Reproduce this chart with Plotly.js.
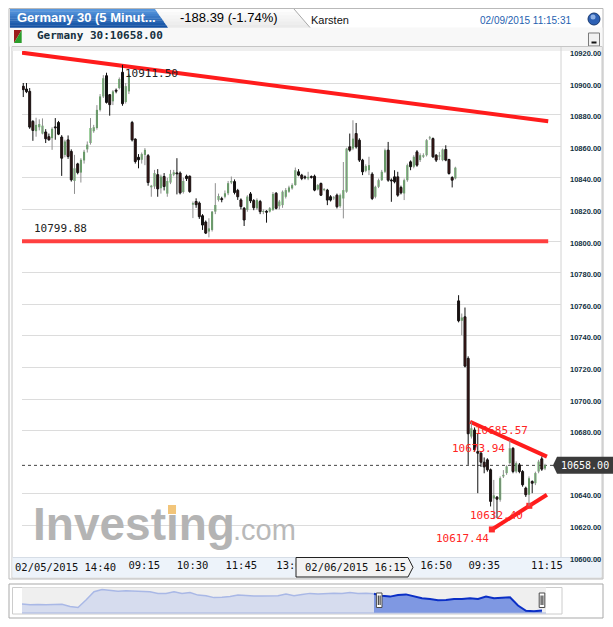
<!DOCTYPE html>
<html><head><meta charset="utf-8">
<script src="https://cdn.plot.ly/plotly-3.0.1.min.js"></script>
<style>html,body{margin:0;padding:0;background:#fff;}#chart{width:613px;height:627px;}</style>
</head><body><div id="chart"></div>
<script>
// ---- 5-minute candles: 02/05 14:40-17:25, 02/06 09:00-17:25, 02/09 09:00-11:15 ----
const openP = [10897.9,10896.2,10894.7,10875.7,10869.5,10872.0,10868.0,10869.0,10866.0,10865.1,10872.0,10875.0,10865.8,10854.5,10864.0,10856.7,10838.0,10848.8,10843.3,10851.0,10858.0,10862.0,10869.5,10871.5,10883.0,10891.5,10904.6,10892.6,10888.4,10895.2,10896.8,10906.8,10888.0,10894.7,
10875.0,10864.5,10853.0,10851.4,10854.5,10854.0,10834.0,10834.5,10842.0,10833.4,10840.8,10830.0,10837.0,10842.0,10843.0,10843.0,10831.0,10841.0,10841.0,10823.0,10825.0,10824.0,10816.0,10812.0,10806.0,10807.0,10818.6,10826.0,10826.6,10828.0,10830.2,10837.0,10837.6,10832.0,10826.0,10820.7,10819.7,10829.8,10825.6,10820.7,10825.0,10818.4,10818.6,10818.6,10819.7,10830.2,10822.0,10822.7,10828.0,10831.2,10833.3,10835.4,10843.8,10841.7,10840.4,10839.6,10840.6,10841.0,10832.6,10836.4,10832.2,10832.2,10828.0,10827.0,10829.0,10822.0,10826.9,10831.2,10859.6,10858.5,10868.0,10863.8,10851.2,10844.4,10844.8,10842.3,10828.0,10834.3,10838.5,10843.8,10857.5,10838.5,10840.6,10840.6,10833.9,10830.1,10838.5,10850.1,10847.0,10856.4,10851.2,10853.3,10854.3,10865.0,10864.8,10854.3,10853.5,10851.2,10857.9,10851.6,10840.2,10839.6,
10762.1,10749.5,10752.0,10725.7,10676.2,10680.4,10666.7,10665.7,10660.0,10661.5,10655.2,10637.0,10637.9,10636.2,10651.0,10653.1,10659.4,10668.8,10654.1,10658.3,10654.1,10643.6,10639.4,10647.8,10646.7,10654.1,10662.1,10656.0];
const highP = [10900.0,10900.0,10896.8,10876.5,10878.0,10877.0,10877.6,10870.8,10868.0,10872.0,10877.8,10876.0,10867.0,10864.1,10866.8,10858.0,10854.5,10849.5,10852.4,10857.7,10863.0,10877.8,10873.5,10886.0,10893.0,10905.0,10906.5,10893.0,10895.5,10896.5,10903.5,10911.5,10900.0,10906.0,
10876.0,10865.0,10855.0,10856.0,10858.8,10855.0,10835.5,10845.0,10845.5,10842.0,10843.0,10840.0,10845.0,10845.0,10852.4,10844.0,10840.0,10842.0,10841.5,10825.0,10827.0,10825.0,10817.0,10813.0,10814.4,10819.0,10836.6,10830.0,10828.0,10832.0,10838.0,10840.8,10839.0,10833.0,10827.0,10821.5,10829.0,10831.0,10826.5,10827.0,10826.0,10820.0,10819.5,10821.5,10831.0,10831.0,10826.0,10832.0,10833.5,10835.0,10836.5,10846.5,10845.5,10842.5,10841.5,10843.8,10841.5,10842.0,10836.0,10837.0,10833.5,10833.0,10829.0,10828.5,10830.0,10830.0,10850.0,10859.0,10868.0,10876.4,10874.7,10865.0,10852.0,10848.5,10853.3,10843.5,10835.0,10839.5,10845.0,10858.5,10862.7,10839.6,10844.8,10843.8,10835.0,10839.5,10849.0,10851.0,10854.3,10857.5,10855.5,10855.5,10864.5,10866.5,10865.5,10855.0,10856.4,10858.5,10860.6,10852.0,10841.0,10847.0,
10765.7,10754.1,10757.9,10727.0,10685.57,10682.0,10678.3,10667.0,10663.0,10662.5,10656.0,10648.8,10638.5,10651.0,10655.0,10658.0,10673.94,10669.5,10660.5,10659.5,10655.0,10644.5,10651.0,10648.5,10654.0,10661.5,10663.6,10659.0];
const lowP = [10891.1,10893.6,10871.0,10863.4,10866.0,10870.0,10867.5,10862.0,10863.4,10857.7,10864.1,10867.0,10841.2,10853.0,10852.0,10837.6,10829.8,10842.2,10837.0,10849.0,10856.0,10861.0,10868.5,10870.5,10882.0,10890.5,10887.0,10879.3,10886.0,10893.5,10896.0,10885.6,10887.0,10893.0,
10863.0,10849.0,10846.0,10849.0,10848.0,10835.0,10828.0,10833.0,10828.0,10830.0,10832.0,10828.0,10836.0,10841.0,10829.5,10829.5,10830.0,10838.0,10830.5,10814.5,10821.0,10814.0,10807.0,10804.4,10802.3,10806.0,10817.0,10825.0,10824.5,10827.0,10829.0,10836.0,10829.5,10826.0,10820.0,10809.5,10818.5,10824.0,10819.5,10819.7,10817.0,10817.0,10811.6,10818.0,10819.0,10820.0,10820.0,10821.0,10826.9,10830.5,10832.5,10835.0,10841.0,10838.5,10839.0,10838.5,10839.5,10831.5,10832.0,10828.5,10831.5,10822.7,10825.0,10826.0,10820.6,10821.0,10814.3,10830.5,10856.5,10857.5,10858.5,10850.0,10841.7,10843.5,10841.7,10825.9,10827.0,10833.5,10838.0,10843.0,10837.5,10824.8,10836.5,10828.0,10829.5,10825.9,10837.5,10844.8,10846.0,10847.0,10850.0,10852.5,10853.5,10864.0,10852.5,10850.0,10851.2,10850.5,10850.5,10842.0,10833.9,10839.0,
10748.5,10740.4,10720.0,10658.3,10675.0,10666.5,10640.4,10657.0,10653.0,10654.0,10632.0,10624.0,10624.6,10635.0,10650.0,10652.0,10658.5,10653.0,10653.0,10653.0,10644.5,10638.0,10632.4,10640.4,10645.5,10653.0,10654.5,10655.0];
const closeP = [10895.8,10894.5,10872.1,10870.0,10873.5,10874.0,10873.0,10864.7,10864.1,10871.0,10871.6,10867.6,10852.4,10863.0,10853.5,10838.7,10846.0,10843.3,10851.4,10856.5,10861.0,10871.5,10872.0,10883.0,10891.5,10903.0,10887.7,10886.3,10894.7,10894.8,10902.5,10886.9,10898.0,10905.3,
10864.0,10850.3,10851.4,10855.0,10857.7,10837.0,10835.0,10843.0,10833.0,10840.8,10834.5,10838.0,10842.5,10843.5,10842.5,10830.5,10838.0,10839.5,10831.3,10824.0,10823.0,10815.4,10810.1,10805.0,10808.0,10818.6,10822.8,10828.5,10826.2,10830.2,10836.6,10838.0,10830.7,10828.0,10821.8,10813.3,10828.1,10825.4,10821.1,10826.0,10818.6,10818.8,10818.2,10820.7,10829.8,10820.7,10825.0,10831.2,10832.2,10833.9,10835.4,10844.8,10841.7,10839.6,10840.0,10840.6,10840.2,10832.2,10835.4,10829.0,10832.6,10825.9,10825.9,10827.5,10821.7,10829.0,10832.2,10858.5,10857.5,10864.8,10859.6,10851.2,10843.8,10847.4,10848.0,10826.9,10834.3,10838.5,10843.8,10857.5,10838.5,10838.0,10837.5,10829.0,10830.5,10838.5,10848.0,10847.0,10853.3,10848.0,10854.3,10854.3,10863.8,10865.5,10853.3,10851.2,10854.0,10857.9,10851.2,10842.7,10838.5,10846.39,
10749.5,10751.6,10720.8,10678.0,10681.5,10667.8,10665.7,10660.0,10657.0,10655.2,10635.2,10639.0,10636.6,10649.9,10652.0,10657.3,10668.8,10654.1,10659.4,10654.1,10645.7,10639.4,10649.9,10646.7,10653.1,10660.4,10655.6,10658.0];

const prevClose = 10846.39;
// x-axis labels (bar positions) and y ticks
const xTickBar  = [37.8, 52.9, 68.1, 84.0, 129.0, 144.0, 163.6];
const xTickText = ['09:15','10:30','11:45','13:00','16:50','09:35','11:15'];
const firstTickText = '02/05/2015 14:40';
const cursorText = '02/06/2015 16:15';
const yTickVals = [10600,10620,10640,10680,10700,10720,10740,10760,10780,10800,10820,10840,10860,10880,10900,10920];

// drawn trend lines [bar0, price0, bar1, price1]
const lineBar0   = [-0.4, -0.4, 139.6, 146.4];
const linePrice0 = [10919.2, 10799.88, 10685.57, 10617.44];
const lineBar1   = [164.0, 164.0, 163.6, 163.6];
const linePrice1 = [10875.8, 10799.88, 10663.5, 10639.4];
const anchorBar   = [146.4, 158.1];
const anchorPrice = [10617.44, 10632.40];
// price labels
const labelBar   = [31, 0, 139.6, 152, 158.1, 146.4];
const labelPrice = [10911.50, 10799.88, 10685.57, 10673.94, 10632.40, 10617.44];

// navigator (longer history)
const navValues = [10771,10756,10762,10756,10762,10766,10731,10715,10833,10963,10999,10983,10972,10978,10972,10972,10963,10937,10937,10963,10937,10952,10910,10901,10870,10875,10886,10910,10901,10895,10895,10901,10901,10926,10901,10921,10937,10926,10937,10941,10937,10952,10937,10941,10932,10901,10886,10910,10921,10886,10859,10849,10828,10833,10849,10849,10859,10849,10886,10859,10870,10875,10746,10663,10653,10668];
const navSplit = 44;

// ---- geometry helpers ----
const W = 613, H = 627;
const M = {l: 22, r: 52, t: 51, b: 14};
const PW = W - M.l - M.r, PH = H - M.t - M.b;
const px = x => (x - M.l) / PW;
const py = y => (H - M.b - y) / PH;
const yRange = [10600, 10920.25];
const xRange = [-0.4, 168];
const mainBottom = 557;
const yPix = v => M.t + (yRange[1] - v) / (yRange[1] - yRange[0]) * (mainBottom - M.t);

const N = openP.length;
const idx = openP.map((_, i) => i);
const isUp = idx.map(i => closeP[i] >= openP[i]);
const lastClose = closeP[N - 1];

function wick(up, color) {
  const xs = [], ys = [];
  idx.forEach(i => { if (isUp[i] === up) { xs.push(i, i, null); ys.push(lowP[i], highP[i], null); } });
  return {type: 'scatter', mode: 'lines', x: xs, y: ys, line: {color, width: 1}, hoverinfo: 'skip', connectgaps: false};
}

const traces = [];
lineBar0.forEach((b, k) => traces.push({type: 'scatter', mode: 'lines', x: [b, lineBar1[k]], y: [linePrice0[k], linePrice1[k]],
  line: {color: k === 1 ? '#ff4040' : '#ff1c1c', width: 4}, hoverinfo: 'skip'}));
traces.push({type: 'scatter', mode: 'markers', x: anchorBar, y: anchorPrice, marker: {symbol: 'square', size: 6, color: '#ff2a2a'}, hoverinfo: 'skip'});
traces.push(wick(true, '#8f8f8f'));
traces.push(wick(false, '#111111'));
traces.push({type: 'bar', x: idx, base: idx.map(i => Math.min(openP[i], closeP[i])),
  y: idx.map(i => Math.max(Math.abs(closeP[i] - openP[i]), 0.6)), width: 0.62,
  marker: {color: isUp.map(u => u ? '#3b9f3b' : '#8c1a1a'),
           line: {color: isUp.map(u => u ? '#3b9f3b' : '#141414'), width: isUp.map(u => u ? 0 : 1)}},
  hoverinfo: 'skip'});
const navIdx = navValues.map((_, k) => k);
traces.push({type: 'scatter', mode: 'lines', xaxis: 'x2', yaxis: 'y2', x: navIdx.slice(0, navSplit + 1), y: navValues.slice(0, navSplit + 1),
  fill: 'tozeroy', fillcolor: '#d6dcee', line: {color: '#a9b8e6', width: 1.5}, hoverinfo: 'skip'});
traces.push({type: 'scatter', mode: 'lines', xaxis: 'x2', yaxis: 'y2', x: navIdx.slice(navSplit), y: navValues.slice(navSplit),
  fill: 'tozeroy', fillcolor: '#7f98e2', line: {color: '#0b2fc6', width: 2}, hoverinfo: 'skip'});

// ---- shapes ----
const shapes = [];
const rectP = (x0, y0, x1, y1, fill, line, extra) => Object.assign({type: 'rect', xref: 'paper', yref: 'paper',
  x0: px(x0), x1: px(x1), y0: py(y1), y1: py(y0), fillcolor: fill, line: {color: line || 'rgba(0,0,0,0)', width: line ? 1 : 0}, layer: 'below'}, extra || {});
const pathP = (pts, fill, line, layer, lw) => ({type: 'path', xref: 'paper', yref: 'paper',
  path: 'M ' + pts.map(p => px(p[0]).toFixed(5) + ',' + py(p[1]).toFixed(5)).join(' L ') + ' Z',
  fillcolor: fill, line: {color: line || 'rgba(0,0,0,0)', width: line ? (lw || 1) : 0}, layer: layer || 'below'});
const segP = (x0, y0, x1, y1, color, w, layer) => ({type: 'line', xref: 'paper', yref: 'paper', x0: px(x0), x1: px(x1), y0: py(y0), y1: py(y1),
  line: {color, width: w || 1}, layer: layer || 'below'});
function lerpColor(a, b, t) {
  const pa = [1,3,5].map(i => parseInt(a.substr(i, 2), 16)), pb = [1,3,5].map(i => parseInt(b.substr(i, 2), 16));
  return 'rgb(' + pa.map((v, i) => Math.round(v + (pb[i] - v) * t)).join(',') + ')';
}
function slantBands(lT, lB, rT, rB, yT, yB, c0, c1, n) {
  for (let k = 0; k < n; k++) {
    const t0 = k / n, t1 = (k + 1) / n;
    const ya = yT + (yB - yT) * t0, yb = yT + (yB - yT) * t1 + 0.3;
    shapes.push(pathP([[lT + (lB - lT) * t0, ya], [rT + (rB - rT) * t0, ya], [rT + (rB - rT) * Math.min(t1, 1), yb], [lT + (lB - lT) * Math.min(t1, 1), yb]],
      lerpColor(c0, c1, (k + 0.5) / n)));
  }
}
// outer container + header
shapes.push(rectP(9, 8.5, 603, 579, '#ffffff', '#b9b9b9'));
shapes.push(rectP(9.5, 27.5, 602.5, 46.5, '#f8f8f8'));
slantBands(155, 168, 294, 310, 9, 27.5, '#ffffff', '#e8e8e8', 6);
slantBands(10, 10, 155, 168, 9, 27.5, '#5b9be2', '#0f4c9e', 8);
shapes.push(segP(294, 9, 310, 27.5, '#a8a8a8', 1));
shapes.push({type: 'circle', xref: 'paper', yref: 'paper', x0: px(588), x1: px(600), y0: py(25), y1: py(13), fillcolor: '#2d60b4', line: {color: '#17386f', width: 1}, layer: 'below'});
shapes.push({type: 'circle', xref: 'paper', yref: 'paper', x0: px(590.5), x1: px(595.5), y0: py(19.5), y1: py(14.5), fillcolor: '#a9c6f0', opacity: 0.8, line: {width: 0}, layer: 'below'});
shapes.push(pathP([[14, 30], [21.7, 30], [14, 43]], '#9b1c1c'));
shapes.push(pathP([[21.7, 30], [21.7, 43], [14, 43]], '#2a9d2a'));
shapes.push(pathP([[588.5, 33], [599.5, 33], [599.5, 46], [588.5, 46]], '#f1f1f1', '#7a7a7a'));
shapes.push(segP(591.5, 42.5, 596.5, 42.5, '#111', 2));
// chart frame
shapes.push(rectP(12, 46.5, 602, 578, '#ffffff', '#c6c6c6'));
shapes.push(rectP(12.5, 47, 601.5, 51, '#efefef'));
shapes.push(segP(561, 47, 561, 557, '#d2d2d2', 1));
shapes.push(rectP(12.5, 557, 601.5, 577.5, '#edf3fa'));
shapes.push(segP(12.5, 557.5, 601.5, 557.5, '#d6dde6', 1));
// navigator frame
shapes.push(rectP(9, 584, 603, 618, '#ffffff', '#a9a9a9'));
shapes.push(rectP(12.5, 587.5, 562, 614, '#ffffff', '#cccccc'));
shapes.push(rectP(22, 587.5, 546, 613, '#efefef'));
shapes.push(segP(22, 613, 546, 613, '#a8b6e0', 1, 'above'));
[379.2, 542].forEach(hx => {
  shapes.push(pathP([[hx - 2.8, 593], [hx + 2.8, 593], [hx + 2.8, 607.5], [hx - 2.8, 607.5]], '#ffffff', '#4a4a4a', 'above'));
  shapes.push(segP(hx - 0.9, 595.5, hx - 0.9, 605, '#222', 1, 'above'));
  shapes.push(segP(hx + 0.9, 595.5, hx + 0.9, 605, '#222', 1, 'above'));
});
// current price dotted line + tag
shapes.push({type: 'line', xref: 'paper', yref: 'y', x0: 0, x1: 1, y0: lastClose, y1: lastClose, line: {color: '#444', width: 1, dash: 'dot'}, layer: 'below'});
const tagY = yPix(lastClose);
shapes.push(pathP([[553, tagY], [557, tagY - 8.5], [613, tagY - 8.5], [613, tagY + 8.5], [557, tagY + 8.5]], '#3b3b3b', null, 'above'));
// cursor time box
shapes.push(pathP([[296, 557.5], [408, 557.5], [413, 567.3], [408, 577], [296, 577]], '#f3f3f3', '#222222', 'above'));

// ---- annotations ----
const ann = [];
const textP = (x, y, text, font, xanchor) => ({xref: 'paper', yref: 'paper', x: px(x), y: py(y), text, font, xanchor: xanchor || 'left', yanchor: 'middle', showarrow: false, borderpad: 0, borderwidth: 0});
const chg = lastClose - prevClose, pct = chg / prevClose * 100;
ann.push(textP(33, 524, '<b>Investing</b>', {family: 'Liberation Sans, Arial', size: 46, color: '#b4b4b4'}));
ann.push(textP(233, 529.6, '.com', {family: 'Liberation Sans, Arial', size: 29, color: '#b9b9b9'}));
ann.push(Object.assign(textP(172.3, 509.5, ' ', {size: 6, color: '#f2c57a'}, 'center'), {width: 8, height: 9, bgcolor: '#f2c57a'}));
ann.push(textP(17, 17, '<b>Germany 30 (5 Minut...</b>', {family: 'Liberation Sans, Arial', size: 13, color: '#ffffff'}));
ann.push(textP(180, 17.2, chg.toFixed(2) + ' (' + pct.toFixed(2) + '%)', {family: 'Liberation Sans, Arial', size: 13, color: '#000000'}));
ann.push(textP(311, 20.5, 'Karsten', {family: 'Liberation Sans, Arial', size: 11, color: '#111111'}));
ann.push(textP(480, 20.8, '02/09/2015 11:15:31', {family: 'Liberation Sans, Arial', size: 10, color: '#1f62b0'}));
ann.push(textP(36.7, 35.5, '<b>Germany 30:' + lastClose.toFixed(2) + '</b>', {family: 'DejaVu Sans Mono', size: 11, color: '#15303f'}));
ann.push(textP(14.5, 566.8, firstTickText, {family: 'DejaVu Sans Mono', size: 10.5, color: '#111111'}));
ann.push(textP(355.5, 567, cursorText, {family: 'DejaVu Sans Mono', size: 10.5, color: '#111111'}, 'center'));
ann.push(textP(561, tagY, lastClose.toFixed(2), {family: 'DejaVu Sans Mono', size: 10, color: '#ffffff'}));
const lblColor  = ['#222222', '#222222', '#ff2424', '#ff2424', '#ff2424', '#ff2424'];
const lblAnchor = ['left', 'left', 'left', 'right', 'right', 'right'];
const lblDx = [2.5, 10.7, 4.9, -4.8, -6.3, -2.9];
const lblDy = [-8.2, 12.2, -8.9, -8.1, -9.2, -8.6];
labelBar.forEach((b, k) => ann.push({xref: 'x', yref: 'y', x: b, y: labelPrice[k], text: labelPrice[k].toFixed(2), showarrow: false,
  xanchor: lblAnchor[k], yanchor: 'middle', xshift: lblDx[k], yshift: lblDy[k], borderpad: 0, borderwidth: 0,
  font: {family: 'DejaVu Sans Mono', size: 11, color: lblColor[k]}}));

const layout = {
  width: W, height: H, margin: M, paper_bgcolor: '#ffffff', plot_bgcolor: '#ffffff', showlegend: false, hovermode: false, dragmode: false,
  xaxis: {range: xRange, domain: [0, 1], anchor: 'y', showgrid: false, zeroline: false, showline: false, ticks: '',
    tickvals: xTickBar, ticktext: xTickText, tickfont: {family: 'DejaVu Sans Mono', size: 10.5, color: '#111111'}, fixedrange: true},
  yaxis: {range: yRange, domain: [py(mainBottom), 1], anchor: 'x', side: 'right', tickvals: yTickVals, ticktext: yTickVals.map(v => v.toFixed(2)),
    showgrid: true, gridcolor: '#dcdcdc', gridwidth: 1, zeroline: false, showline: false, ticks: '',
    tickfont: {family: 'Liberation Sans, Arial', size: 7.5, color: '#12313f', weight: 'bold'}, ticklabelstandoff: 8, ticklabelshift: 2, fixedrange: true},
  xaxis2: {domain: [0, px(546)], range: [0, 65.5], anchor: 'y2', visible: false, fixedrange: true},
  yaxis2: {domain: [0, py(587.5)], range: [10627, 11030], anchor: 'x2', visible: false, fixedrange: true},
  shapes, annotations: ann
};
Plotly.newPlot('chart', traces, layout, {staticPlot: true, displayModeBar: false});
</script></body></html>
